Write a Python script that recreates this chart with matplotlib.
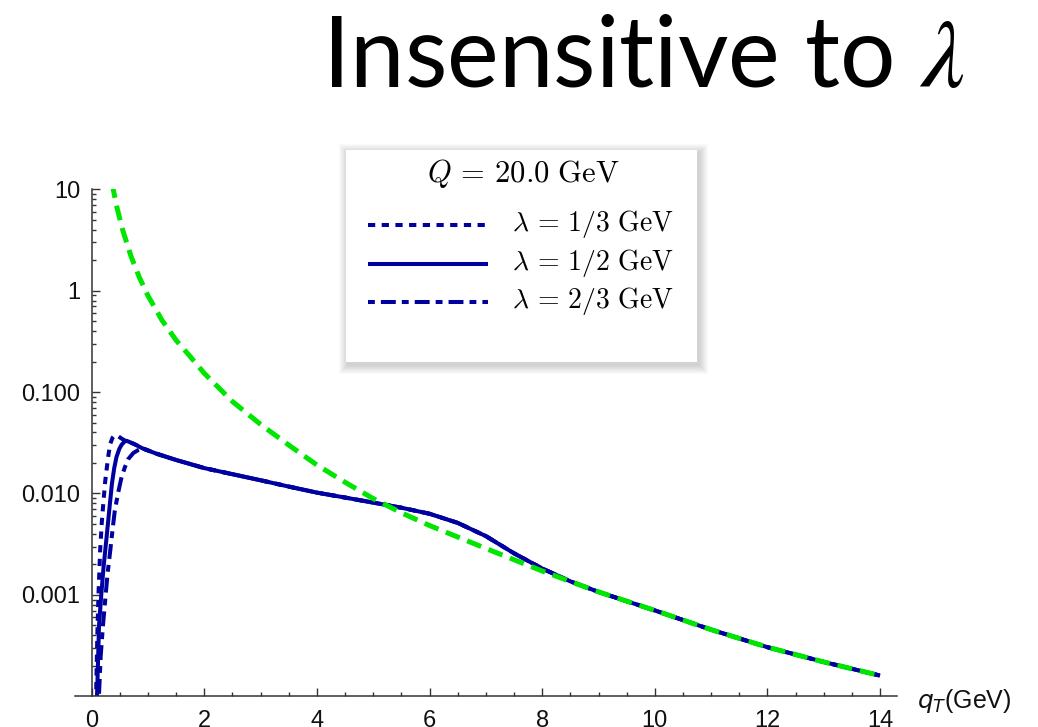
import matplotlib
matplotlib.use("Agg")
import matplotlib.pyplot as plt
from matplotlib.lines import Line2D
from matplotlib.patches import Rectangle
from matplotlib.ticker import FixedLocator, MultipleLocator, LogLocator, NullFormatter

# green dashed curve (asymptotic)
ASY_Q = [0.36, 0.45, 0.55, 0.7, 0.85, 1.0, 1.25, 1.5, 1.75, 2.0, 2.5, 3.0, 3.5,
         4.0, 4.5, 5.0, 5.5, 6.0, 7.0, 8.0, 9.0, 10.0, 11.0, 12.0, 13.0, 14.0]
ASY_Y = [11.5, 6.56, 3.97, 2.17, 1.34, 0.891, 0.509, 0.324, 0.224, 0.153, 0.0807,
         0.048, 0.030, 0.0191, 0.0129, 0.0089, 0.00645, 0.00483, 0.00287,
         0.00172, 0.00107, 0.000703, 0.000454, 0.000305, 0.000218, 0.00016]

# shared tail of the three lambda curves
TAIL_Q = [0.9, 1.15, 1.5, 2.0, 2.5, 3.0, 3.5, 4.0, 4.5, 5.0, 5.5, 6.0, 6.5, 7.0,
          7.5, 8.0, 8.5, 9.0, 10.0, 11.0, 12.0, 13.0, 14.0]
TAIL_Y = [0.0279, 0.0247, 0.0214, 0.0178, 0.0155, 0.0135, 0.0117, 0.0102, 0.00912,
          0.00813, 0.00724, 0.00631, 0.00513, 0.0038, 0.00257, 0.00182, 0.00136,
          0.00107, 0.000703, 0.000454, 0.000305, 0.000218, 0.00016]

# low-qT parts, one per lambda
HEAD_Q_13 = [0.07, 0.10, 0.12, 0.15, 0.18, 0.21, 0.24, 0.27, 0.30, 0.33, 0.37,
             0.41, 0.46, 0.52, 0.60, 0.70, 0.80]
HEAD_Y_13 = [6.3e-5, 4.0e-4, 1.0e-3, 2.75e-3, 5.25e-3, 8.5e-3, 0.0132, 0.0182,
             0.0245, 0.0309, 0.0355, 0.0376, 0.0372, 0.0351, 0.0331, 0.0316, 0.0299]
HEAD_Q_12 = [0.08, 0.10, 0.13, 0.17, 0.21, 0.27, 0.32, 0.36, 0.40, 0.44, 0.49,
             0.53, 0.58, 0.62, 0.75]
HEAD_Y_12 = [6e-5, 1.26e-4, 5.0e-4, 1.0e-3, 1.86e-3, 3.98e-3, 7.6e-3, 0.0126,
             0.0178, 0.0229, 0.0275, 0.0302, 0.0324, 0.0331, 0.0309]
HEAD_Q_23 = [0.12, 0.16, 0.20, 0.24, 0.28, 0.33, 0.37, 0.41, 0.47, 0.53, 0.59,
             0.65, 0.74, 0.83]
HEAD_Y_23 = [7.9e-5, 2.5e-4, 5.0e-4, 8.9e-4, 1.58e-3, 2.75e-3, 4.37e-3, 6.76e-3,
             0.0102, 0.0145, 0.0182, 0.0219, 0.0251, 0.0269]

LABELS = [r"$\lambda\, =\, 1/3\ \mathrm{GeV}$", r"$\lambda\, =\, 1/2\ \mathrm{GeV}$",
          r"$\lambda\, =\, 2/3\ \mathrm{GeV}$"]
YTICKS = [1e-3, 1e-2, 1e-1, 1, 10]
YTICK_LABELS = ["0.001", "0.010", "0.100", "1", "10"]
XTICKS = [0, 2, 4, 6, 8, 10, 12, 14]

BLUE = "#0000a0"
GREEN = "#00e600"
AXC = "#333333"

plt.rcParams["mathtext.fontset"] = "cm"

W, H = 1038, 727
fig = plt.figure(figsize=(W / 100, H / 100), dpi=100)


def fx(px):
    return px / W


def fy(py):
    return (H - py) / H


ax = fig.add_axes([fx(74.8), fy(696.3), fx(897) - fx(74.8), fy(189.3) - fy(696.3)])

styles = [(1.8, 1.6), None, (1.7, 1.5, 3.7, 1.5)]
heads = [(HEAD_Q_13, HEAD_Y_13), (HEAD_Q_12, HEAD_Y_12), (HEAD_Q_23, HEAD_Y_23)]
for (hq, hy), dash in zip(heads, styles):
    kw = dict(color=BLUE, lw=2.9, solid_capstyle="butt", dash_capstyle="butt")
    if dash is not None:
        kw["dashes"] = dash
    ax.plot(hq + TAIL_Q, hy + TAIL_Y, **kw)
ax.plot(ASY_Q, ASY_Y, color=GREEN, lw=3.6, dashes=(3.0, 1.6), dash_capstyle="butt")

ax.set_yscale("log")
ax.set_xlim(-0.3, 14.3)
ax.set_ylim(1e-4, 10)

for s in ["top", "right"]:
    ax.spines[s].set_visible(False)
ax.spines["left"].set_position(("data", 0))
for s in ["left", "bottom"]:
    ax.spines[s].set_color(AXC)
    ax.spines[s].set_linewidth(1.1)

ax.yaxis.set_major_locator(FixedLocator(YTICKS))
ax.set_yticklabels(YTICK_LABELS)
ax.yaxis.set_minor_locator(LogLocator(base=10, subs=range(2, 10), numticks=20))
ax.yaxis.set_minor_formatter(NullFormatter())
ax.set_xticks(XTICKS)
ax.set_xticklabels([str(v) for v in XTICKS])
ax.xaxis.set_minor_locator(MultipleLocator(0.5))

ax.tick_params(which="major", direction="in", length=6, width=1, color=AXC,
               labelsize=17, labelcolor="#111111")
ax.tick_params(which="minor", direction="in", length=3, width=1, color=AXC)
ax.tick_params(axis="x", pad=10)
ax.tick_params(axis="y", pad=8)
for lab in ax.get_xticklabels() + ax.get_yticklabels():
    lab.set_family("Liberation Sans")

fig.text(fx(917), fy(708), r"$q_T$(GeV)", fontsize=18, family="Liberation Sans",
         math_fontfamily="dejavusans", va="baseline", ha="left", color="#111111")

# legend box with soft shadow
bx0, by0, bx1, by1 = 346, 150, 697, 362
for i in range(9, 0, -1):
    fig.add_artist(Rectangle((fx(bx0 - i + 2), fy(by1 + i + 3)),
                             fx(bx1 - bx0 + 2 * i), fy(0) - fy(by1 - by0 + 2 * i),
                             transform=fig.transFigure, facecolor="black",
                             edgecolor="none", alpha=0.02, zorder=5))
fig.add_artist(Rectangle((fx(bx0), fy(by1)), fx(bx1 - bx0), fy(0) - fy(by1 - by0),
                         transform=fig.transFigure, facecolor="white",
                         edgecolor="none", zorder=6))
fig.text(fx(523), fy(174), r"$Q\, =\, 20.0\ \mathrm{GeV}$", fontsize=22,
         ha="center", va="center", zorder=7)
row_y = [225, 264, 302]
for lab, dash, ry in zip(LABELS, styles, row_y):
    kw = dict(color=BLUE, lw=2.9, solid_capstyle="butt", dash_capstyle="butt",
              transform=fig.transFigure, zorder=7)
    if dash is not None:
        kw["dashes"] = dash
    fig.add_artist(Line2D([fx(368), fx(488)], [fy(ry), fy(ry)], **kw))
    fig.text(fx(512), fy(ry - 1), lab, fontsize=20, ha="left", va="center", zorder=7)

fig.text(fx(322), fy(87), r"Insensitive to $\lambda$", fontsize=70.5, family="Lato",
         math_fontfamily="stix", va="baseline", ha="left", color="black")

fig.savefig("out.png", dpi=100)
